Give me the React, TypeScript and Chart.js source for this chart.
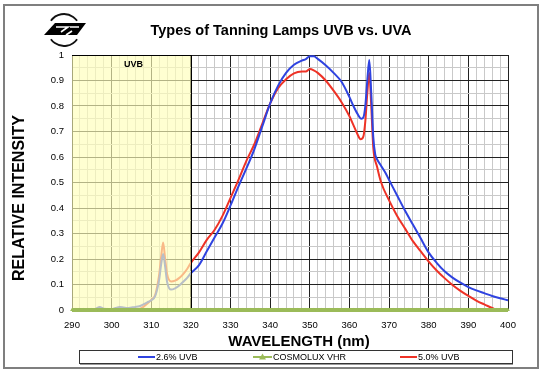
import React, { useEffect, useRef } from 'react';
import { Chart, registerables } from 'chart.js';

Chart.register(...registerables);

// ---- Data ----
const seriesNames = ['2.6% UVB', 'COSMOLUX VHR', '5.0% UVB'];

const blueWavelengths = [
  290, 292, 294, 296, 297, 298, 300, 301, 302, 303, 304, 305, 306, 307, 308, 309, 310, 311, 312, 312.5,
  313, 313.5, 314, 315, 316, 317, 318, 319, 320, 322, 324, 326, 328, 330, 332, 334, 336, 338, 340, 342,
  344, 346, 348, 349, 350, 351, 352, 354, 356, 358, 360, 361, 362, 363, 363.5, 364, 364.5, 365, 365.5, 366,
  366.5, 367, 368, 369, 370, 372, 374, 376, 378, 380, 382, 384, 386, 388, 390, 392, 394, 396, 398, 400,
];
const blueValues = [
  0, 0, 0, 0.005, 0.012, 0.005, 0.003, 0.008, 0.012, 0.01, 0.008, 0.01, 0.012, 0.015, 0.022, 0.03, 0.038, 0.055, 0.12, 0.18,
  0.22, 0.17, 0.11, 0.08, 0.085, 0.095, 0.11, 0.125, 0.145, 0.175, 0.23, 0.285, 0.34, 0.41, 0.485, 0.555, 0.63, 0.72, 0.81, 0.88,
  0.93, 0.962, 0.978, 0.984, 0.995, 0.995, 0.985, 0.96, 0.93, 0.895, 0.835, 0.8, 0.77, 0.75, 0.755, 0.8, 0.9, 0.98, 0.85, 0.68,
  0.61, 0.59, 0.565, 0.54, 0.51, 0.45, 0.39, 0.335, 0.28, 0.225, 0.185, 0.152, 0.127, 0.107, 0.09, 0.077, 0.066, 0.055, 0.046, 0.038,
];

const redWavelengths = [
  306.5, 308, 309, 310, 311, 312, 312.5, 313, 313.5, 314, 315, 316, 317, 318, 319, 320, 322, 324, 326, 328,
  330, 332, 334, 336, 338, 340, 342, 344, 346, 348, 349, 350, 351, 352, 354, 356, 358, 360, 361, 362,
  362.8, 363.5, 364, 364.5, 365, 365.5, 366, 367, 368, 370, 372, 374, 376, 378, 380, 382, 384, 386, 388, 390,
  392, 394, 396, 397,
];
const redValues = [
  0, 0.012, 0.025, 0.04, 0.06, 0.14, 0.21, 0.265, 0.2, 0.14, 0.112, 0.115, 0.125, 0.14, 0.16, 0.185, 0.225, 0.275, 0.315, 0.37,
  0.44, 0.51, 0.585, 0.65, 0.73, 0.81, 0.87, 0.905, 0.928, 0.935, 0.935, 0.945, 0.94, 0.93, 0.9, 0.86, 0.815, 0.76, 0.725, 0.69,
  0.67, 0.68, 0.74, 0.85, 0.93, 0.8, 0.64, 0.56, 0.5, 0.43, 0.37, 0.32, 0.27, 0.23, 0.19, 0.155, 0.125, 0.098, 0.075, 0.055,
  0.037, 0.022, 0.008, 0,
];

const greenWavelengths = [
  290, 291, 292, 293, 294, 295, 296, 297, 298, 299, 300, 301, 302, 303, 304, 305, 306, 307, 308, 309,
  310, 311, 312, 313, 314, 315, 316, 317, 318, 319, 320, 321, 322, 323, 324, 325, 326, 327, 328, 329,
  330, 331, 332, 333, 334, 335, 336, 337, 338, 339, 340, 341, 342, 343, 344, 345, 346, 347, 348, 349,
  350, 351, 352, 353, 354, 355, 356, 357, 358, 359, 360, 361, 362, 363, 364, 365, 366, 367, 368, 369,
  370, 371, 372, 373, 374, 375, 376, 377, 378, 379, 380, 381, 382, 383, 384, 385, 386, 387, 388, 389,
  390, 391, 392, 393, 394, 395, 396, 397, 398, 399, 400,
];
const greenValues = [
  0, 0, 0, 0, 0, 0, 0, 0, 0, 0, 0, 0, 0, 0, 0, 0, 0, 0, 0, 0,
  0, 0, 0, 0, 0, 0, 0, 0, 0, 0, 0, 0, 0, 0, 0, 0, 0, 0, 0, 0,
  0, 0, 0, 0, 0, 0, 0, 0, 0, 0, 0, 0, 0, 0, 0, 0, 0, 0, 0, 0,
  0, 0, 0, 0, 0, 0, 0, 0, 0, 0, 0, 0, 0, 0, 0, 0, 0, 0, 0, 0,
  0, 0, 0, 0, 0, 0, 0, 0, 0, 0, 0, 0, 0, 0, 0, 0, 0, 0, 0, 0,
  0, 0, 0, 0, 0, 0, 0, 0, 0, 0, 0,
];

const xTickValues = [290, 300, 310, 320, 330, 340, 350, 360, 370, 380, 390, 400];
const xTickLabels = ['290', '300', '310', '320', '330', '340', '350', '360', '370', '380', '390', '400'];
const yTickLabels = ['0', '0.1', '0.2', '0.3', '0.4', '0.5', '0.6', '0.7', '0.8', '0.9', '1'];

const uvbBand = [290, 320];
const titleText = 'Types of Tanning Lamps UVB vs. UVA';
const xTitle = 'WAVELENGTH (nm)';
const yTitle = 'RELATIVE INTENSITY';
const bandLabel = 'UVB';

// ---- Styles ----
const FONT = "'Liberation Sans', Arial, Helvetica, sans-serif";
const BLUE = '#2f43e0';
const RED = '#ee3226';
const GREEN = '#9bbb59';
const MAJOR = '#222222';
const MINOR = '#c9c9c9';

function zip(xs: number[], ys: number[]) {
  return xs.map((x, i) => ({ x, y: ys[i] }));
}

function isMajor(v: number, step: number) {
  const r = v / step;
  return Math.abs(r - Math.round(r)) < 1e-6;
}

const decorPlugin = {
  id: 'decor',
  beforeDatasetDraw(chart: any, args: any) {
    if (args.index !== 1) return;
    const { ctx, chartArea } = chart;
    const xs = chart.scales.x;
    const x0 = xs.getPixelForValue(uvbBand[0]);
    const x1 = xs.getPixelForValue(uvbBand[1]);
    ctx.save();
    ctx.fillStyle = 'rgba(255,255,185,0.66)';
    ctx.fillRect(x0, chartArea.top, x1 - x0, chartArea.bottom - chartArea.top);
    ctx.strokeStyle = '#000';
    ctx.lineWidth = 1;
    ctx.beginPath();
    const xr = Math.round(x1) + 0.5;
    ctx.moveTo(xr, chartArea.top);
    ctx.lineTo(xr, chartArea.bottom);
    ctx.moveTo(x0, Math.round(chartArea.top) + 0.5);
    ctx.lineTo(xr, Math.round(chartArea.top) + 0.5);
    ctx.stroke();
    ctx.fillStyle = '#000';
    ctx.font = `bold 9px ${FONT}`;
    ctx.textAlign = 'center';
    ctx.textBaseline = 'middle';
    ctx.fillText(bandLabel, xs.getPixelForValue(305.5), chartArea.top + 10);
    ctx.restore();
  },
  afterDraw(chart: any) {
    const { ctx } = chart;
    ctx.save();
    // outer frame
    ctx.strokeStyle = '#7f7f7f';
    ctx.lineWidth = 2;
    ctx.strokeRect(4, 5, 534, 363);

    // title
    ctx.fillStyle = '#000';
    ctx.textAlign = 'center';
    ctx.textBaseline = 'middle';
    ctx.font = `bold 14.5px ${FONT}`;
    ctx.fillText(titleText, 281, 31);

    // x title
    ctx.font = `bold 15px ${FONT}`;
    ctx.fillText(xTitle, 299, 342);

    // y title
    ctx.save();
    ctx.translate(20, 198);
    ctx.rotate(-Math.PI / 2);
    ctx.font = `bold 16px ${FONT}`;
    ctx.fillText(yTitle, 0, 0);
    ctx.restore();

    // legend box
    ctx.strokeStyle = '#333';
    ctx.lineWidth = 1;
    ctx.strokeRect(79.5, 350.5, 433, 13);
    ctx.strokeStyle = '#9a9a9a';
    ctx.beginPath();
    ctx.moveTo(80, 364.5);
    ctx.lineTo(513, 364.5);
    ctx.stroke();

    const items = [
      { name: seriesNames[0], color: BLUE, x0: 138, x1: 155, marker: false },
      { name: seriesNames[1], color: GREEN, x0: 253, x1: 272, marker: true },
      { name: seriesNames[2], color: RED, x0: 400, x1: 417, marker: false },
    ];
    const ly = 357;
    ctx.font = `9px ${FONT}`;
    ctx.textAlign = 'left';
    for (const it of items) {
      ctx.strokeStyle = it.color;
      ctx.lineWidth = 2;
      ctx.beginPath();
      ctx.moveTo(it.x0, ly);
      ctx.lineTo(it.x1, ly);
      ctx.stroke();
      if (it.marker) {
        const cx = (it.x0 + it.x1) / 2;
        ctx.fillStyle = it.color;
        ctx.beginPath();
        ctx.moveTo(cx, ly - 3.5);
        ctx.lineTo(cx + 3.5, ly + 2.5);
        ctx.lineTo(cx - 3.5, ly + 2.5);
        ctx.closePath();
        ctx.fill();
      }
      ctx.fillStyle = '#000';
      ctx.fillText(it.name, it.x1 + 1, ly + 0.5);
    }

    // logo (simple stylised mark)
    ctx.strokeStyle = '#111';
    ctx.lineWidth = 1.8;
    ctx.beginPath();
    ctx.arc(64, 30, 16, (215 * Math.PI) / 180, (325 * Math.PI) / 180);
    ctx.stroke();
    ctx.beginPath();
    ctx.arc(64, 30, 16, (35 * Math.PI) / 180, (145 * Math.PI) / 180);
    ctx.stroke();
    ctx.fillStyle = '#000';
    ctx.beginPath();
    ctx.moveTo(55, 23);
    ctx.lineTo(86, 23);
    ctx.lineTo(77, 35);
    ctx.lineTo(44, 35);
    ctx.closePath();
    ctx.fill();
    ctx.strokeStyle = '#fff';
    ctx.lineWidth = 1.6;
    ctx.beginPath();
    ctx.moveTo(56, 27);
    ctx.lineTo(68, 27);
    ctx.lineTo(61, 32);
    ctx.moveTo(70, 27);
    ctx.lineTo(79, 27);
    ctx.moveTo(72, 31);
    ctx.lineTo(66, 35);
    ctx.stroke();
    ctx.restore();
  },
};

export default function App() {
  const canvasRef = useRef<HTMLCanvasElement | null>(null);

  useEffect(() => {
    const canvas = canvasRef.current;
    if (!canvas) return;
    Chart.defaults.font.family = FONT;
    const chart = new Chart(canvas, {
      type: 'line',
      data: {
        datasets: [
          {
            label: seriesNames[0],
            data: zip(blueWavelengths, blueValues),
            borderColor: BLUE,
            backgroundColor: BLUE,
            borderWidth: 2,
            pointRadius: 0,
            cubicInterpolationMode: 'monotone',
            order: 1,
          },
          {
            label: seriesNames[1],
            data: zip(greenWavelengths, greenValues),
            borderColor: GREEN,
            backgroundColor: GREEN,
            borderWidth: 4,
            pointStyle: 'triangle',
            pointRadius: 2.2,
            pointBorderWidth: 0,
            pointBackgroundColor: GREEN,
            clip: false as any,
            order: 0,
          },
          {
            label: seriesNames[2],
            data: zip(redWavelengths, redValues),
            borderColor: RED,
            backgroundColor: RED,
            borderWidth: 2,
            pointRadius: 0,
            cubicInterpolationMode: 'monotone',
            order: 2,
          },
        ],
      },
      options: {
        responsive: false,
        animation: false,
        devicePixelRatio: 1,
        layout: { padding: { top: 55, right: 35, left: 0, bottom: 0 } },
        plugins: {
          legend: { display: false },
          title: { display: false },
          tooltip: { enabled: false },
        },
        scales: {
          x: {
            type: 'linear',
            min: 290,
            max: 400,
            afterFit: (s: any) => {
              s.height = 65;
            },
            ticks: {
              stepSize: 2,
              autoSkip: false,
              maxTicksLimit: 200,
              maxRotation: 0,
              padding: 10,
              color: '#000',
              font: { size: 9.5 },
              callback: (value: any) => {
                const idx = xTickValues.indexOf(Number(value));
                return idx >= 0 ? xTickLabels[idx] : '';
              },
            },
            grid: {
              drawTicks: false,
              lineWidth: 1,
              color: (c: any) => (c.tick && isMajor(c.tick.value, 10) ? MAJOR : MINOR),
            },
            border: { color: '#000', width: 1 },
          },
          y: {
            type: 'linear',
            min: 0,
            max: 1,
            afterFit: (s: any) => {
              s.width = 72;
            },
            ticks: {
              stepSize: 0.05,
              autoSkip: false,
              maxTicksLimit: 200,
              padding: 8,
              color: '#000',
              font: { size: 9.5 },
              callback: (value: any) => {
                const v = Number(value);
                if (!isMajor(v, 0.1)) return '';
                return yTickLabels[Math.round(v * 10)];
              },
            },
            grid: {
              drawTicks: false,
              lineWidth: 1,
              color: (c: any) => (c.tick && isMajor(c.tick.value, 0.1) ? MAJOR : MINOR),
            },
            border: { color: '#000', width: 1 },
          },
        },
      },
      plugins: [decorPlugin],
    } as any);
    return () => chart.destroy();
  }, []);

  return (
    <div style={{ position: 'absolute', left: 0, top: 0, width: 543, height: 375, background: '#fff' }}>
      <canvas ref={canvasRef} width={543} height={375} style={{ display: 'block', width: 543, height: 375 }} />
    </div>
  );
}
